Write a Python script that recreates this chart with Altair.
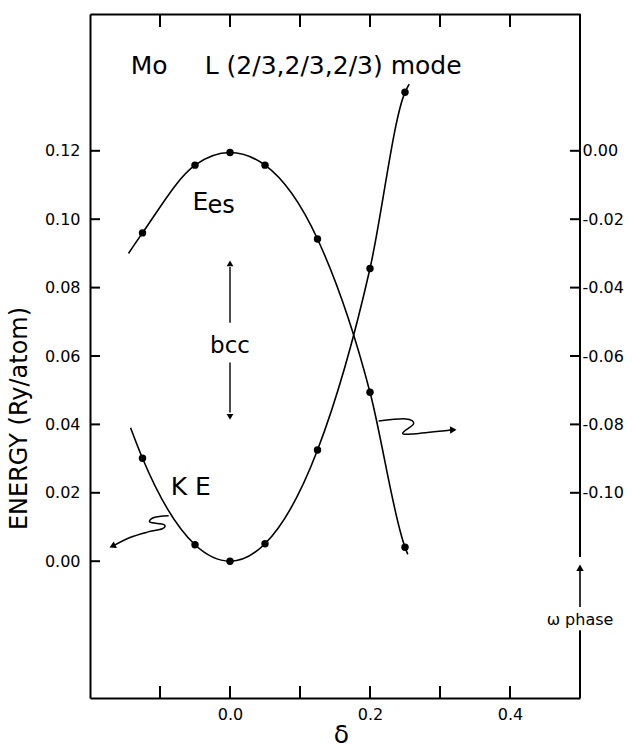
import altair as alt
import pandas as pd

FONT = "DejaVu Sans"

# ---- data ----
delta = [-0.125, -0.05, 0.0, 0.05, 0.125, 0.2, 0.25]
e_es = [0.0960, 0.1158, 0.1195, 0.1158, 0.0942, 0.0494, 0.0041]
ke = [0.0301, 0.0048, 0.0, 0.0051, 0.0325, 0.0856, 0.1371]
# where the drawn curves start / stop beyond the computed points
es_end_delta = [-0.145, 0.254]
es_end_val = [0.090, 0.002]
ke_end_delta = [-0.142, 0.256]
ke_end_val = [0.039, 0.1395]

x_ticks = [-0.1, 0.0, 0.1, 0.2, 0.3, 0.4]
x_labels = [0.0, 0.2, 0.4]
y_left = [0.0, 0.02, 0.04, 0.06, 0.08, 0.10, 0.12]
right_vals = [0.00, -0.02, -0.04, -0.06, -0.08, -0.10]
right_offset = 0.12  # right-hand scale = left - 0.12
y_right = [round(v + right_offset, 4) for v in right_vals]

# annotation anchors (data units)
big_labels = ["Mo", "L (2/3,2/3,2/3) mode", "E", "K E"]
big_x = [-0.1419, -0.0361, -0.0537, -0.0847]
big_y = [0.1425, 0.1425, 0.1028, 0.0194]

es_sq_x = [0.2124, 0.2510, 0.2624, 0.2467, 0.2610, 0.3124, 0.3190]
es_sq_y = [0.0410, 0.0416, 0.0402, 0.0375, 0.0372, 0.0383, 0.0384]
ke_sq_x = [-0.0876, -0.1086, -0.1143, -0.0943, -0.0966, -0.1181, -0.1419, -0.1650]
ke_sq_y = [0.0133, 0.0128, 0.0114, 0.0107, 0.0095, 0.0085, 0.0070, 0.0047]

X_DOM = [-0.2, 0.5]
Y_DOM = [-0.04, 0.16]
W, H = 490, 684
xs = alt.Scale(domain=X_DOM, nice=False, zero=False)
ys = alt.Scale(domain=Y_DOM, nice=False, zero=False)
# inward tick lengths expressed in data units (pixels / pixels-per-unit)
TX = 12 * (Y_DOM[1] - Y_DOM[0]) / H
TY = 10 * (X_DOM[1] - X_DOM[0]) / W

es_df = pd.DataFrame({"d": [es_end_delta[0]] + delta + [es_end_delta[1]],
                      "v": [es_end_val[0]] + e_es + [es_end_val[1]]})
ke_df = pd.DataFrame({"d": [ke_end_delta[0]] + delta + [ke_end_delta[1]],
                      "v": [ke_end_val[0]] + ke + [ke_end_val[1]]})
dots_df = pd.DataFrame({"d": delta + delta, "v": e_es + ke})
big_df = pd.DataFrame({"t": big_labels, "d": big_x, "v": big_y})

common_axis = dict(domainColor="black", tickColor="black", labelColor="black",
                   titleColor="black", grid=False)

X0 = alt.X("d:Q", scale=xs, axis=None)
Y0 = alt.Y("v:Q", scale=ys, axis=None)

# E_es curve, carrying bottom and left axes
line_es = alt.Chart(es_df).mark_line(color="black", strokeWidth=1.6, interpolate="monotone").encode(
    x=alt.X("d:Q", scale=xs, axis=alt.Axis(
        orient="bottom", values=x_labels, format=".1f", ticks=False, domain=True, domainWidth=2,
        labelFont=FONT, labelFontSize=16, labelPadding=8,
        title="δ", titleFont=FONT, titleFontSize=25, titleFontWeight="normal",
        titleX=251, titleY=36, titleAlign="center", titleBaseline="middle", **common_axis)),
    y=alt.Y("v:Q", scale=ys, axis=alt.Axis(
        orient="left", values=y_left, format=".2f", ticks=False, domain=True, domainWidth=2,
        labelFont=FONT, labelFontSize=16, labelPadding=10,
        title="ENERGY  (Ry/atom)", titleFont=FONT, titleFontSize=24, titleFontWeight="normal",
        titleAngle=270, titleX=-71, titleY=404, titleAlign="center", titleBaseline="middle",
        **common_axis)),
)

line_ke = alt.Chart(ke_df).mark_line(color="black", strokeWidth=1.6, interpolate="monotone").encode(
    x=X0, y=Y0)

# dots, carrying top border and right labels
dots = alt.Chart(dots_df).mark_circle(size=55, color="black", opacity=1).encode(
    x=alt.X("d:Q", scale=xs, title=None, axis=alt.Axis(
        orient="top", ticks=False, labels=False, domain=True, domainWidth=2, **common_axis)),
    y=alt.Y("v:Q", scale=ys, title=None, axis=alt.Axis(
        orient="right", values=y_right, ticks=False, domain=False,
        labelExpr="datum.value >= 0.119 ? '0.00' : '-' + format(0.12 - datum.value, '.2f')",
        labelFont=FONT, labelFontSize=16, labelPadding=2, labelAlign="left", **common_axis)),
)

# inward tick marks, drawn in data units through the scales
tk_d, tk_d2, tk_v, tk_v2 = [], [], [], []
for t in x_ticks:
    tk_d += [t, t]; tk_d2 += [t, t]
    tk_v += [Y_DOM[0], Y_DOM[1]]; tk_v2 += [Y_DOM[0] + TX, Y_DOM[1] - TX * 13 / 12]
for t in y_left:
    tk_d.append(X_DOM[0]); tk_d2.append(X_DOM[0] + TY); tk_v.append(t); tk_v2.append(t)
for t in y_right:
    tk_d.append(X_DOM[1]); tk_d2.append(X_DOM[1] - TY); tk_v.append(t); tk_v2.append(t)
ticks_df = pd.DataFrame({"d": tk_d, "d2": tk_d2, "v": tk_v, "v2": tk_v2})
ticks = alt.Chart(ticks_df).mark_rule(color="black", strokeWidth=2).encode(
    x=X0, x2="d2:Q", y=Y0, y2="v2:Q")

big_text = alt.Chart(big_df).mark_text(font=FONT, fontSize=25, align="left",
                                       baseline="alphabetic", color="black").encode(
    x=X0, y=Y0, text="t:N")

es_sub = alt.Chart(pd.DataFrame({"t": ["es"], "d": [-0.032], "v": [0.1018]})).mark_text(
    font=FONT, fontSize=24, align="left", baseline="alphabetic", color="black"
).encode(x=X0, y=Y0, text="t:N")

bcc = alt.Chart(pd.DataFrame({"t": ["bcc"], "d": [0.0], "v": [0.0629]})).mark_text(
    font=FONT, fontSize=23, align="center", baseline="middle", color="black"
).encode(x=X0, y=Y0, text="t:N")

omega = alt.Chart(pd.DataFrame({"t": ["ω phase"], "d": [0.5], "v": [-0.0173]})).mark_text(
    font=FONT, fontSize=16, align="center", baseline="middle", color="black"
).encode(x=X0, y=Y0, text="t:N")

# straight segments: right border (broken) and arrow shafts
seg_df = pd.DataFrame({
    "d": [0.5, 0.5, 0.5, 0.0, 0.0],
    "v": [0.16, -0.0202, -0.0134, 0.0697, 0.0581],
    "d2": [0.5, 0.5, 0.5, 0.0, 0.0],
    "v2": [0.0012, -0.04, -0.0025, 0.0860, 0.0435],
    "w": [2.0, 2.0, 1.6, 1.4, 1.4],
})
segs = alt.Chart(seg_df).mark_rule(color="black").encode(
    x=X0, x2="d2:Q", y=Y0, y2="v2:Q",
    strokeWidth=alt.StrokeWidth("w:Q", scale=None, legend=None),
)

def head(d, v, ang, size=55):
    return alt.Chart(pd.DataFrame({"d": [d], "v": [v]})).mark_point(
        shape="triangle-up", filled=True, size=size, color="black", opacity=1, angle=ang
    ).encode(x=X0, y=Y0)

heads = [
    head(0.0, 0.0871, 0, 45),
    head(0.0, 0.0422, 180, 45),
    head(0.5, -0.0019, 0, 55),
    head(0.3190, 0.0384, 88, 55),
    head(-0.1680, 0.0044, 244, 55),
]

sq_es = alt.Chart(pd.DataFrame({"d": es_sq_x, "v": es_sq_y, "o": list(range(len(es_sq_x)))})).mark_line(
    color="black", strokeWidth=1.5, interpolate="cardinal"
).encode(x=X0, y=Y0, order="o:Q")

sq_ke = alt.Chart(pd.DataFrame({"d": ke_sq_x, "v": ke_sq_y, "o": list(range(len(ke_sq_x)))})).mark_line(
    color="black", strokeWidth=1.5, interpolate="cardinal"
).encode(x=X0, y=Y0, order="o:Q")

chart = alt.layer(
    line_es, dots, line_ke, ticks,
    big_text, es_sub, bcc, omega, segs, sq_es, sq_ke, *heads
).resolve_axis(
    x="independent", y="independent"
).properties(
    width=W, height=H,
    padding={"left": 90, "top": 14, "right": 52, "bottom": 51},
    autosize=alt.AutoSizeParams(type="none"),
    background="white",
).configure_view(stroke=None)

chart.save("out.html", embed_options={"renderer": "svg", "actions": False})
